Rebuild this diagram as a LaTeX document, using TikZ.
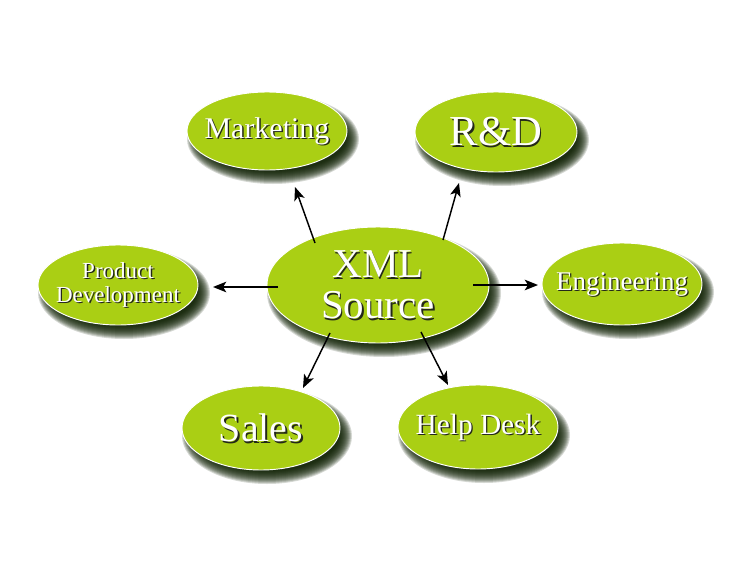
\documentclass[tikz,border=0pt]{standalone}
\usepackage{fontspec}
\setmainfont{Liberation Serif}
\usetikzlibrary{shapes.geometric,arrows.meta,calc}
\definecolor{bubgreen}{RGB}{170,207,20}
\definecolor{shcol}{RGB}{12,30,0}
\definecolor{txtsh}{RGB}{35,40,25}
\tikzset{
  bubble/.style={ellipse, fill=bubgreen, draw=white, line width=0.7pt, inner sep=0pt},
  txt/.style={text=white, inner sep=0pt, align=center},
  tshadow/.style={text=txtsh, inner sep=0pt, align=center},
  arr/.style={-{Stealth[length=10pt,width=8pt,inset=2.5pt]}, line width=1.1pt, black}
}
\newcommand\bub[7]{%
  \foreach \k in {0,...,13}{
    \fill[shcol, opacity=0.17] (#2+6,#3+8) ellipse [x radius={#4+6-\k}, y radius={#5+6-\k}];
  }
  \node[bubble, minimum width={2*#4*0.75pt}, minimum height={2*#5*0.75pt}] (#1) at (#2,#3) {};
  \node[tshadow, font=#6] (#1-sh) at ($(#1.center)+(1.4,1.4)$) {#7};
  \node[txt, font=#6] (#1-tx) at (#1.center) {#7};
}
\begin{document}
\begin{tikzpicture}[x=0.75pt,y=-0.75pt]
\useasboundingbox (0,0) rectangle (750,567);
\bub{mkt}{267}{131}{80}{39}{\fontsize{22.5}{22.5}\selectfont}{Marketing}
\bub{rd}{496}{132}{81}{40}{\fontsize{32}{32}\selectfont}{R\&D}
\bub{pd}{118}{285}{80}{40}{\fontsize{17.25}{18}\selectfont}{Product\\Development}
\bub{eng}{622}{284}{80}{41}{\fontsize{20.25}{20.25}\selectfont}{Engineering}
\bub{sales}{261}{428}{79}{42}{\fontsize{30}{30}\selectfont}{Sales}
\bub{help}{478}{427}{80}{42}{\fontsize{22}{22}\selectfont}{Help Desk}
\bub{xml}{378}{285}{111}{58}{\fontsize{30.75}{30.75}\selectfont}{XML\\Source}
\draw[arr] ($(xml.center)+(-63,-42)$) -- ($(mkt.center)+(28,56)$);
\draw[arr] ($(xml.center)+(65,-45)$) -- ($(rd.center)+(-37,51)$);
\draw[arr] ($(xml.center)+(-100,2)$) -- ($(pd.center)+(95,2)$);
\draw[arr] ($(xml.center)+(95,0)$) -- ($(eng.center)+(-84,1)$);
\draw[arr] ($(xml.center)+(-48,48)$) -- ($(sales.center)+(42,-40)$);
\draw[arr] ($(xml.center)+(43,47)$) -- ($(help.center)+(-30,-42)$);
\end{tikzpicture}
\end{document}
